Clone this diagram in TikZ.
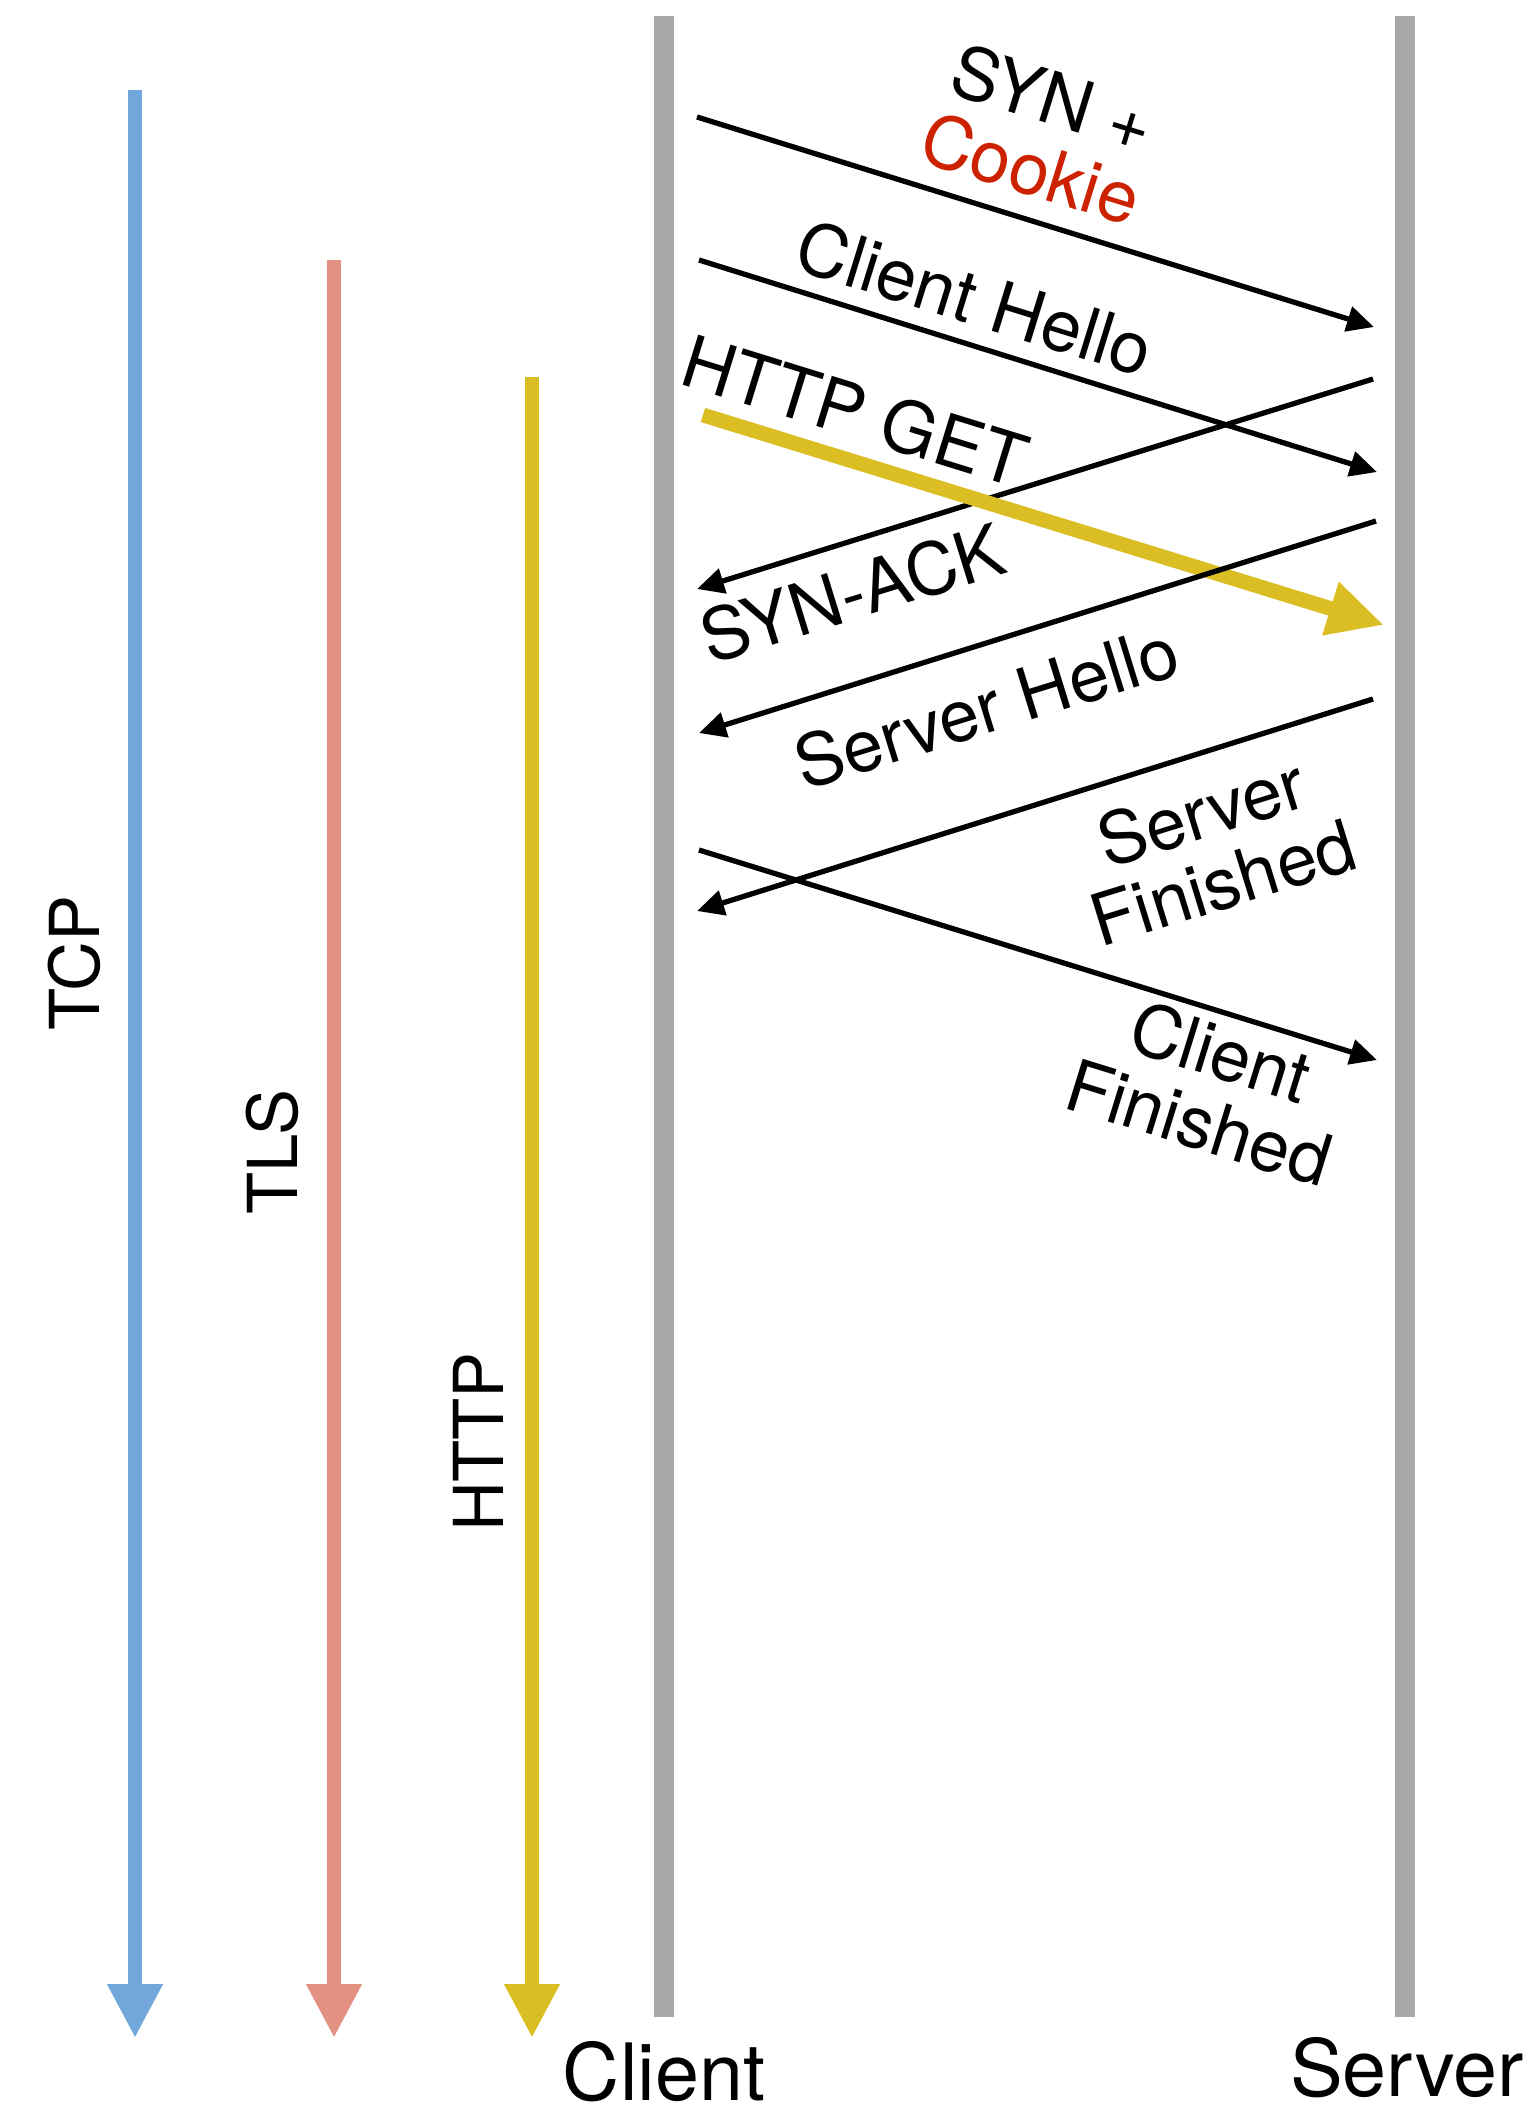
\documentclass[tikz,border=0pt]{standalone}
\usepackage{fontspec}
\setmainfont{TeX Gyre Heros}
\usetikzlibrary{arrows.meta}
\definecolor{tcpblue}{RGB}{114,167,219}
\definecolor{tlssalmon}{RGB}{227,145,130}
\definecolor{httpyellow}{RGB}{219,190,35}
\definecolor{lifegray}{RGB}{168,170,169}
\definecolor{cookiered}{RGB}{204,34,0}

\begin{document}
\begin{tikzpicture}[
  layer/.style={line width=4pt, -{Triangle[length=5.4mm,width=5.2mm]}},
  lifeline/.style={line width=5.6pt, lifegray},
  msg/.style={line width=1.5pt, -{Triangle[length=2.7mm,width=2.5mm]}},
  msglbl/.style={font=\fontsize{20.5}{21}\selectfont, align=center, inner sep=0pt},
  layerlbl/.style={font=\fontsize{19.6}{21}\selectfont, rotate=90, inner sep=0pt},
  endlbl/.style={font=\fontsize{22.5}{24}\selectfont, anchor=base, inner sep=0pt}
]
\useasboundingbox (0,0) rectangle (15.32,-21.12);

% Layers
\coordinate (tcptop) at (1.35,-0.90);  \coordinate (tcpbot) at (1.35,-20.38);
\coordinate (tlstop) at (3.34,-2.60);  \coordinate (tlsbot) at (3.34,-20.38);
\coordinate (httptop) at (5.32,-3.77); \coordinate (httpbot) at (5.32,-20.38);
\draw[layer, tcpblue] (tcptop) -- (tcpbot);
\draw[layer, tlssalmon] (tlstop) -- (tlsbot);
\draw[layer, httpyellow] (httptop) -- (httpbot);
\node[layerlbl] (tcp) at (0.74,-9.63) {TCP};
\node[layerlbl] (tls) at (2.72,-11.52) {TLS};
\node[layerlbl] (http) at (4.78,-14.42) {HTTP};

% Lifelines
\coordinate (clienttop) at (6.64,-0.16); \coordinate (clientbot) at (6.64,-20.17);
\coordinate (servertop) at (14.05,-0.16); \coordinate (serverbot) at (14.05,-20.17);
\draw[lifeline] (clienttop) -- (clientbot);
\draw[lifeline] (servertop) -- (serverbot);
\node[endlbl] (client) at (6.64,-21.0) {Client};
\node[endlbl] (server) at (14.07,-20.96) {Server};

% Message end points
\coordinate (c1) at (6.97,-1.17); \coordinate (s1) at (13.74,-3.27);
\coordinate (c2) at (6.99,-2.60); \coordinate (s2) at (13.77,-4.72);
\coordinate (s3) at (13.73,-3.79); \coordinate (c3) at (6.97,-5.89);
\coordinate (c4) at (7.03,-4.15); \coordinate (s4) at (13.84,-6.25);
\coordinate (s5) at (13.76,-5.21); \coordinate (c5) at (6.99,-7.33);
\coordinate (s6) at (13.73,-6.99); \coordinate (c6) at (6.97,-9.11);
\coordinate (c7) at (6.99,-8.50); \coordinate (s7) at (13.77,-10.60);

% Messages
\draw[msg] (c1) -- (s1);
\draw[msg] (c2) -- (s2);
\draw[msg] (s3) -- (c3);
\draw[line width=4.2pt, httpyellow, -{Triangle[length=5.6mm,width=5.2mm]}] (c4) -- (s4);
\draw[msg] (s5) -- (c5);
\draw[msg] (s6) -- (c6);
\draw[msg] (c7) -- (s7);

% Labels
\node[msglbl, rotate=-17.2] (synlbl) at (10.42,-1.33) {SYN +\\\textcolor{cookiered}{Cookie}};
\node[msglbl, rotate=-17.2] (chlbl) at (9.75,-2.98) {Client Hello};
\node[msglbl, rotate=-17.2] (getlbl) at (8.55,-4.11) {HTTP GET};
\node[msglbl, rotate=17.2] (acklbl) at (8.52,-5.93) {SYN-ACK};
\node[msglbl, rotate=17.2] (shlbl) at (9.86,-7.07) {Server Hello};
\node[msglbl, rotate=17.2] (sflbl) at (12.12,-8.47) {Server\\Finished};
\node[msglbl, rotate=-17.2] (cflbl) at (12.10,-10.87) {Client\\Finished};
\end{tikzpicture}
\end{document}
